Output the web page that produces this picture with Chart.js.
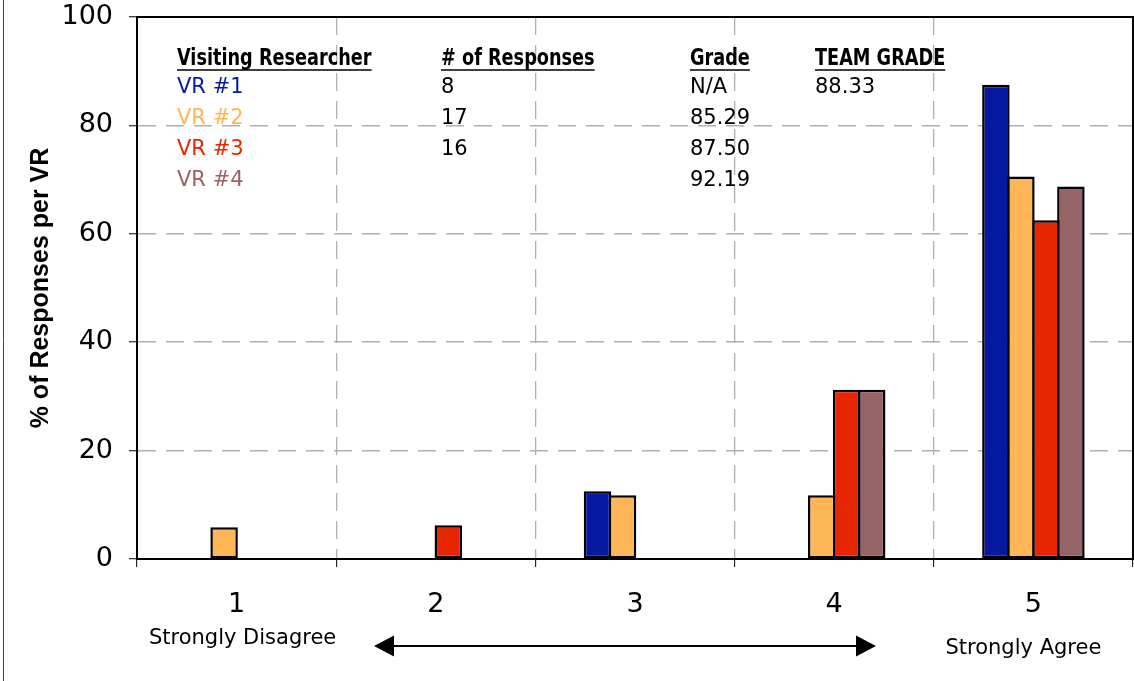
<!DOCTYPE html>
<html>
<head>
<meta charset="utf-8">
<script src="https://cdn.jsdelivr.net/npm/chart.js@4/dist/chart.umd.min.js"></script>
<style>
html,body{margin:0;padding:0;background:#fff;}
#wrap{width:1134px;height:681px;position:relative;}
</style>
</head>
<body>
<div id="wrap"><canvas id="c" width="1134" height="681"></canvas></div>
<script>
// ---- data ----
const categories = ['1', '2', '3', '4', '5'];
const seriesNames = ['VR #1', 'VR #2', 'VR #3', 'VR #4'];
const vr1 = [0, 0, 12.5, 0, 87.5];
const vr2 = [5.88, 0, 11.76, 11.76, 70.59];
const vr3 = [0, 6.25, 0, 31.25, 62.5];
const vr4 = [0, 0, 0, 31.25, 68.75];
const yTicks = [0, 20, 40, 60, 80, 100];
const responses = ['8', '17', '16', ''];
const grades = ['N/A', '85.29', '87.50', '92.19'];
const teamGrade = '88.33';
const tableHeaders = ['Visiting Researcher', '# of Responses', 'Grade', 'TEAM GRADE'];
const scaleEnds = ['Strongly Disagree', 'Strongly Agree'];
const yTitle = '% of Responses per VR';

const colors = ['#0719A0', '#FFB657', '#E52600', '#966466'];
const seriesData = [vr1, vr2, vr3, vr4];

const overlay = {
  id: 'overlay',
  afterDraw(chart) {
    const ctx = chart.ctx;
    const a = chart.chartArea;
    ctx.save();
    // outer left frame line
    ctx.strokeStyle = '#444';
    ctx.lineWidth = 1;
    ctx.beginPath(); ctx.moveTo(3.5, 0); ctx.lineTo(3.5, 681); ctx.stroke();
    // plot frame
    ctx.strokeStyle = '#000';
    ctx.lineWidth = 2;
    ctx.beginPath();
    ctx.moveTo(a.left, a.bottom); ctx.lineTo(a.left, a.top); ctx.lineTo(a.right, a.top);
    ctx.lineTo(a.right, a.bottom); ctx.closePath(); ctx.stroke();

    // table
    const colX = [177, 441, 690, 815];
    const sx = 0.855;
    ctx.textBaseline = 'middle';
    ctx.textAlign = 'left';
    ctx.font = 'bold 23px "Liberation Sans Narrow", "DejaVu Sans Condensed", sans-serif';
    ctx.fillStyle = '#000';
    tableHeaders.forEach((h, i) => {
      ctx.save();
      ctx.translate(colX[i], 59);
      ctx.scale(sx, 1);
      ctx.fillText(h, 0, 0);
      ctx.restore();
      const w = ctx.measureText(h).width * sx;
      ctx.lineWidth = 1.5;
      ctx.beginPath(); ctx.moveTo(colX[i], 70); ctx.lineTo(colX[i] + w, 70); ctx.stroke();
    });
    ctx.font = '21px "DejaVu Sans", sans-serif';
    const rowY = [88, 119, 150, 181];
    seriesNames.forEach((n, i) => {
      ctx.fillStyle = colors[i];
      ctx.fillText(n, colX[0], rowY[i]);
      ctx.fillStyle = '#000';
      ctx.fillText(responses[i], colX[1], rowY[i]);
      ctx.fillText(grades[i], colX[2], rowY[i]);
    });
    ctx.fillText(teamGrade, colX[3], rowY[0]);

    // scale end labels
    const xs = chart.scales.x;
    ctx.font = '21px "DejaVu Sans", sans-serif';
    ctx.textAlign = 'center';
    ctx.fillText(scaleEnds[0], xs.getPixelForValue(0) + 6, 639);
    ctx.fillText(scaleEnds[1], xs.getPixelForValue(4) - 10, 649);

    // arrow
    const y = 646, x1 = 374, x2 = 876;
    ctx.lineWidth = 2;
    ctx.beginPath(); ctx.moveTo(x1 + 10, y); ctx.lineTo(x2 - 10, y); ctx.stroke();
    ctx.beginPath(); ctx.moveTo(x1, y); ctx.lineTo(x1 + 20, y - 10.5); ctx.lineTo(x1 + 20, y + 10.5); ctx.closePath(); ctx.fill();
    ctx.beginPath(); ctx.moveTo(x2, y); ctx.lineTo(x2 - 20, y - 10.5); ctx.lineTo(x2 - 20, y + 10.5); ctx.closePath(); ctx.fill();
    ctx.restore();
  }
};

new Chart(document.getElementById('c'), {
  type: 'bar',
  data: {
    labels: categories,
    datasets: seriesData.map((d, i) => ({
      label: seriesNames[i],
      data: d,
      backgroundColor: colors[i],
      borderColor: '#000',
      borderWidth: 2.5,
      borderSkipped: false,
      barPercentage: 1.1,
      categoryPercentage: 0.502
    }))
  },
  options: {
    responsive: false,
    animation: false,
    devicePixelRatio: 1,
    layout: { padding: { top: 17, right: 1, left: 0, bottom: 0 } },
    plugins: { legend: { display: false }, tooltip: { enabled: false } },
    scales: {
      x: {
        afterFit(s) { s.height = 122; s.paddingLeft = 0; s.paddingRight = 0; },
        grid: {
          offset: true,
          color: (c) => (c.type === 'tick' && c.index > 0) ? '#b0b0b0' : 'rgba(0,0,0,0)',
          lineWidth: 1.3,
          tickColor: '#000',
          tickLength: 8,
          tickWidth: 1,
          tickBorderDash: []
        },
        border: { display: true, color: '#000', width: 2, dash: [18, 10] },
        ticks: {
          color: '#000',
          font: { family: '"DejaVu Sans", sans-serif', size: 27 },
          padding: 22,
          maxRotation: 0
        }
      },
      y: {
        min: 0, max: 100,
        afterFit(s) { s.width = 137; s.paddingTop = 0; s.paddingBottom = 0; },
        afterBuildTicks(s) { s.ticks = yTicks.map(v => ({ value: v })); },
        grid: {
          color: (c) => (c.tick && c.tick.value > 0 && c.tick.value < 100) ? '#b0b0b0' : 'rgba(0,0,0,0)',
          lineWidth: 1.5,
          tickColor: '#000',
          tickLength: 8,
          tickWidth: 1,
          tickBorderDash: []
        },
        border: { display: true, color: '#000', width: 2, dash: [18, 10] },
        ticks: {
          color: '#000',
          font: { family: '"DejaVu Sans", sans-serif', size: 27 },
          padding: 16
        },
        title: {
          display: true,
          text: yTitle,
          color: '#000',
          font: { family: '"Liberation Sans", Arial, sans-serif', size: 25, weight: 'bold' },
          padding: { top: 26, bottom: 0 }
        }
      }
    }
  },
  plugins: [overlay]
});
</script>
</body>
</html>
